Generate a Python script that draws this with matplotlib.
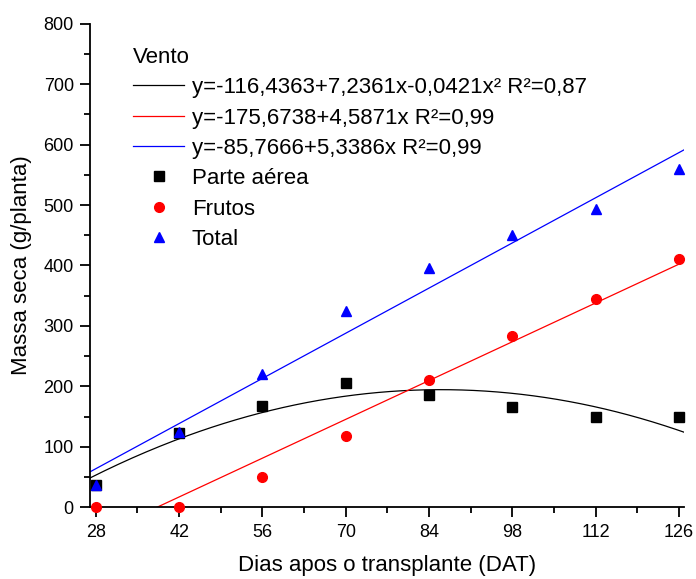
import matplotlib
matplotlib.use("Agg")
import matplotlib.pyplot as plt
import numpy as np

plt.rcParams['font.family'] = ['Liberation Sans', 'DejaVu Sans']

# dados
dias = [28, 42, 56, 70, 84, 98, 112, 126]
parte_aerea = [37, 123, 168, 205, 186, 165, 150, 149]
frutos = [0, 0, 50, 118, 210, 284, 344, 410]
total = [37, 125, 220, 324, 396, 450, 494, 560]

# coeficientes das equacoes da legenda (grau maior primeiro)
coef_aerea = [-0.0421, 7.2361, -116.4363]
coef_frutos = [4.5871, -175.6738]
coef_total = [5.3386, -85.7666]

lbl_aerea = 'y=-116,4363+7,2361x-0,0421x² R²=0,87'
lbl_frutos = 'y=-175,6738+4,5871x R²=0,99'
lbl_total = 'y=-85,7666+5,3386x R²=0,99'

fig = plt.figure(figsize=(6.96, 5.79), dpi=100)
ax = fig.add_axes([0.130, 0.124, 0.853, 0.835])

xx = np.linspace(27.1, 126.85, 300)
ax.plot(xx, np.polyval(coef_aerea, xx), color='black', lw=0.9, label=lbl_aerea)
ax.plot(xx, np.polyval(coef_frutos, xx), color='red', lw=0.9, label=lbl_frutos)
ax.plot(xx, np.polyval(coef_total, xx), color='blue', lw=0.9, label=lbl_total)

ax.plot(dias, parte_aerea, 's', color='black', ms=6.5, ls='none', label='Parte aérea', clip_on=False, zorder=3)
ax.plot(dias, frutos, 'o', color='red', ms=7, ls='none', label='Frutos', clip_on=False, zorder=3)
ax.plot(dias, total, '^', color='blue', ms=7.5, ls='none', label='Total', clip_on=False, zorder=3)

ax.set_xlim(27.1, 126.85)
ax.set_ylim(0, 800)
ax.set_xticks(dias)
ax.set_xticks(np.arange(35, 127, 14), minor=True)
ax.set_yticks(np.arange(0, 801, 100))
ax.set_yticks(np.arange(50, 800, 100), minor=True)
ax.spines['top'].set_visible(False)
ax.spines['right'].set_visible(False)
ax.spines['left'].set_linewidth(1.3)
ax.spines['bottom'].set_linewidth(1.3)
ax.tick_params(which='major', direction='out', length=7, width=1.3, labelsize=13, pad=5)
ax.tick_params(which='minor', direction='out', length=4, width=1.3)

ax.set_xlabel('Dias apos o transplante (DAT)', fontsize=16, labelpad=10)
ax.set_ylabel('Massa seca (g/planta)', fontsize=16, labelpad=8)

leg = ax.legend(loc='upper left', bbox_to_anchor=(0.053, 0.975), frameon=False,
                title='Vento', fontsize=16, title_fontsize=16,
                handlelength=2.3, handletextpad=0.35, labelspacing=0.42,
                borderpad=0)
leg._legend_box.align = 'left'

fig.savefig('out.png', dpi=100)
